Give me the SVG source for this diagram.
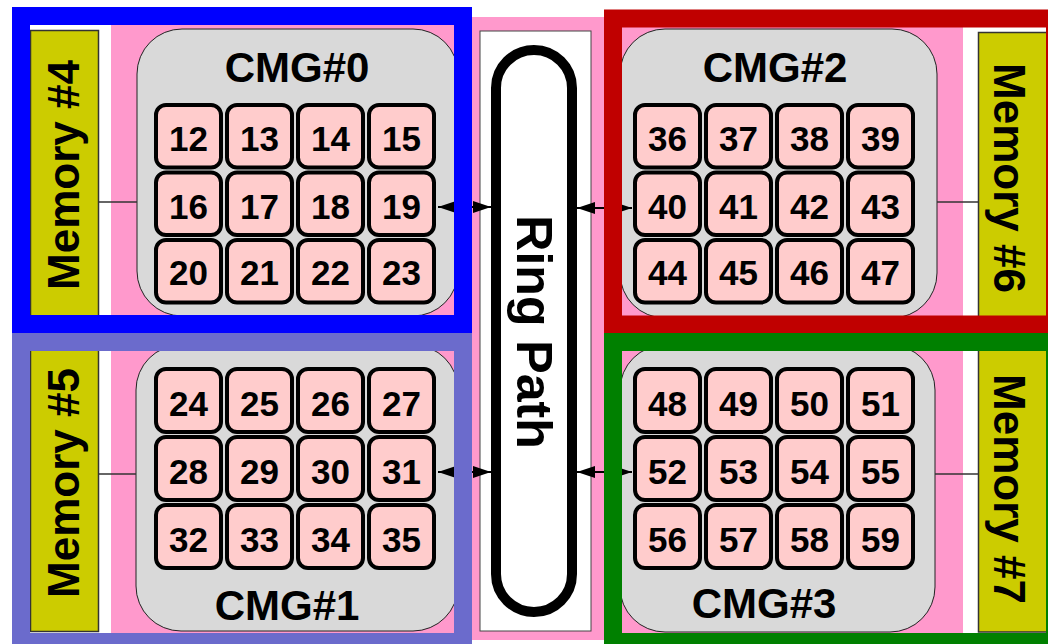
<svg xmlns="http://www.w3.org/2000/svg" width="1048" height="644" viewBox="0 0 1048 644">
<style>
text{font-family:"Liberation Sans",Arial,sans-serif;font-weight:bold;fill:#000}
.core rect{fill:#FFCCCC;stroke:#000;stroke-width:4}
.core text{font-size:35px;text-anchor:middle}
.cmg{fill:#D9D9D9;stroke:#222;stroke-width:1}
.cmgl{font-size:42px;text-anchor:middle}
.mem{fill:#CCCC00;stroke:#333;stroke-width:1.5}
.meml{font-size:44px;text-anchor:middle}
.frame{fill:none;stroke-width:18}
.conn{stroke:#000;stroke-width:2;fill:none}
.mline{stroke:#333;stroke-width:1.5;fill:none}
</style>
<defs>
<marker id="ah" markerWidth="18" markerHeight="12" refX="18" refY="6" orient="auto-start-reverse" markerUnits="userSpaceOnUse"><path d="M0,0 L18,6 L0,12 z" fill="#000"/></marker>
</defs>
<rect x="0" y="0" width="1048" height="644" fill="#fff"/>
<rect x="111" y="17" width="852" height="623" fill="#FF99CC"/>

<g id="ring">
<rect x="480" y="31" width="111" height="600" fill="#fff" stroke="#444" stroke-width="1"/>
<rect x="496" y="50" width="76" height="562" rx="38" fill="#fff" stroke="#000" stroke-width="10"/>
<text transform="translate(517,332) rotate(90)" font-size="50" text-anchor="middle">Ring Path</text>
</g>

<g id="memory4"><rect class="mem" x="30.5" y="30.5" width="68" height="300"/><text class="meml" transform="translate(79,175) rotate(-90)">Memory #4</text></g>
<g id="memory5"><rect class="mem" x="30.5" y="345" width="68" height="286.5"/><text class="meml" transform="translate(79,483) rotate(-90)">Memory #5</text></g>
<g id="memory6"><rect class="mem" x="978.5" y="32.5" width="80" height="300"/><text class="meml" transform="translate(994,178) rotate(90)">Memory #6</text></g>
<g id="memory7"><rect class="mem" x="978.5" y="345" width="80" height="287"/><text class="meml" transform="translate(994,489) rotate(90)">Memory #7</text></g>

<g id="cmg0">
<rect class="cmg" x="137" y="29" width="321" height="287" rx="45"/>
<text class="cmgl" x="297" y="82">CMG#0</text>
<g id="core12" class="core"><rect x="156" y="105" width="65" height="62.5" rx="10"/><text x="188.5" y="151">12</text></g>
<g id="core13" class="core"><rect x="227" y="105" width="65" height="62.5" rx="10"/><text x="259.5" y="151">13</text></g>
<g id="core14" class="core"><rect x="298" y="105" width="65" height="62.5" rx="10"/><text x="330.5" y="151">14</text></g>
<g id="core15" class="core"><rect x="369" y="105" width="65" height="62.5" rx="10"/><text x="401.5" y="151">15</text></g>
<g id="core16" class="core"><rect x="156" y="172.5" width="65" height="62.5" rx="10"/><text x="188.5" y="218.5">16</text></g>
<g id="core17" class="core"><rect x="227" y="172.5" width="65" height="62.5" rx="10"/><text x="259.5" y="218.5">17</text></g>
<g id="core18" class="core"><rect x="298" y="172.5" width="65" height="62.5" rx="10"/><text x="330.5" y="218.5">18</text></g>
<g id="core19" class="core"><rect x="369" y="172.5" width="65" height="62.5" rx="10"/><text x="401.5" y="218.5">19</text></g>
<g id="core20" class="core"><rect x="156" y="240" width="65" height="62.5" rx="10"/><text x="188.5" y="285">20</text></g>
<g id="core21" class="core"><rect x="227" y="240" width="65" height="62.5" rx="10"/><text x="259.5" y="285">21</text></g>
<g id="core22" class="core"><rect x="298" y="240" width="65" height="62.5" rx="10"/><text x="330.5" y="285">22</text></g>
<g id="core23" class="core"><rect x="369" y="240" width="65" height="62.5" rx="10"/><text x="401.5" y="285">23</text></g>
</g>

<g id="cmg1">
<rect class="cmg" x="136" y="345" width="322" height="286" rx="45"/>
<text class="cmgl" x="287" y="620">CMG#1</text>
<g id="core24" class="core"><rect x="156" y="369" width="65" height="63" rx="10"/><text x="188.5" y="416">24</text></g>
<g id="core25" class="core"><rect x="227" y="369" width="65" height="63" rx="10"/><text x="259.5" y="416">25</text></g>
<g id="core26" class="core"><rect x="298" y="369" width="65" height="63" rx="10"/><text x="330.5" y="416">26</text></g>
<g id="core27" class="core"><rect x="369" y="369" width="65" height="63" rx="10"/><text x="401.5" y="416">27</text></g>
<g id="core28" class="core"><rect x="156" y="437" width="65" height="63" rx="10"/><text x="188.5" y="484">28</text></g>
<g id="core29" class="core"><rect x="227" y="437" width="65" height="63" rx="10"/><text x="259.5" y="484">29</text></g>
<g id="core30" class="core"><rect x="298" y="437" width="65" height="63" rx="10"/><text x="330.5" y="484">30</text></g>
<g id="core31" class="core"><rect x="369" y="437" width="65" height="63" rx="10"/><text x="401.5" y="484">31</text></g>
<g id="core32" class="core"><rect x="156" y="505" width="65" height="63" rx="10"/><text x="188.5" y="552">32</text></g>
<g id="core33" class="core"><rect x="227" y="505" width="65" height="63" rx="10"/><text x="259.5" y="552">33</text></g>
<g id="core34" class="core"><rect x="298" y="505" width="65" height="63" rx="10"/><text x="330.5" y="552">34</text></g>
<g id="core35" class="core"><rect x="369" y="505" width="65" height="63" rx="10"/><text x="401.5" y="552">35</text></g>
</g>

<g id="cmg2">
<rect class="cmg" x="620" y="29" width="317" height="289" rx="45"/>
<text class="cmgl" x="775" y="82">CMG#2</text>
<g id="core36" class="core"><rect x="635" y="105" width="65" height="62.5" rx="10"/><text x="667.5" y="151">36</text></g>
<g id="core37" class="core"><rect x="706" y="105" width="65" height="62.5" rx="10"/><text x="738.5" y="151">37</text></g>
<g id="core38" class="core"><rect x="777" y="105" width="65" height="62.5" rx="10"/><text x="809.5" y="151">38</text></g>
<g id="core39" class="core"><rect x="848" y="105" width="65" height="62.5" rx="10"/><text x="880.5" y="151">39</text></g>
<g id="core40" class="core"><rect x="635" y="172.5" width="65" height="62.5" rx="10"/><text x="667.5" y="218.5">40</text></g>
<g id="core41" class="core"><rect x="706" y="172.5" width="65" height="62.5" rx="10"/><text x="738.5" y="218.5">41</text></g>
<g id="core42" class="core"><rect x="777" y="172.5" width="65" height="62.5" rx="10"/><text x="809.5" y="218.5">42</text></g>
<g id="core43" class="core"><rect x="848" y="172.5" width="65" height="62.5" rx="10"/><text x="880.5" y="218.5">43</text></g>
<g id="core44" class="core"><rect x="635" y="240" width="65" height="62.5" rx="10"/><text x="667.5" y="285">44</text></g>
<g id="core45" class="core"><rect x="706" y="240" width="65" height="62.5" rx="10"/><text x="738.5" y="285">45</text></g>
<g id="core46" class="core"><rect x="777" y="240" width="65" height="62.5" rx="10"/><text x="809.5" y="285">46</text></g>
<g id="core47" class="core"><rect x="848" y="240" width="65" height="62.5" rx="10"/><text x="880.5" y="285">47</text></g>
</g>

<g id="cmg3">
<rect class="cmg" x="620" y="345" width="315" height="287" rx="45"/>
<text class="cmgl" x="764" y="618">CMG#3</text>
<g id="core48" class="core"><rect x="635" y="369" width="65" height="63" rx="10"/><text x="667.5" y="416">48</text></g>
<g id="core49" class="core"><rect x="706" y="369" width="65" height="63" rx="10"/><text x="738.5" y="416">49</text></g>
<g id="core50" class="core"><rect x="777" y="369" width="65" height="63" rx="10"/><text x="809.5" y="416">50</text></g>
<g id="core51" class="core"><rect x="848" y="369" width="65" height="63" rx="10"/><text x="880.5" y="416">51</text></g>
<g id="core52" class="core"><rect x="635" y="437" width="65" height="63" rx="10"/><text x="667.5" y="484">52</text></g>
<g id="core53" class="core"><rect x="706" y="437" width="65" height="63" rx="10"/><text x="738.5" y="484">53</text></g>
<g id="core54" class="core"><rect x="777" y="437" width="65" height="63" rx="10"/><text x="809.5" y="484">54</text></g>
<g id="core55" class="core"><rect x="848" y="437" width="65" height="63" rx="10"/><text x="880.5" y="484">55</text></g>
<g id="core56" class="core"><rect x="635" y="505" width="65" height="63" rx="10"/><text x="667.5" y="552">56</text></g>
<g id="core57" class="core"><rect x="706" y="505" width="65" height="63" rx="10"/><text x="738.5" y="552">57</text></g>
<g id="core58" class="core"><rect x="777" y="505" width="65" height="63" rx="10"/><text x="809.5" y="552">58</text></g>
<g id="core59" class="core"><rect x="848" y="505" width="65" height="63" rx="10"/><text x="880.5" y="552">59</text></g>
</g>

<g id="connectors">
<line class="mline" x1="98" y1="202" x2="137" y2="202"/>
<line class="mline" x1="98" y1="474" x2="136" y2="474"/>
<line class="mline" x1="937" y1="202" x2="978" y2="202"/>
<line class="mline" x1="935" y1="474" x2="978" y2="474"/>
<line class="conn" x1="438" y1="207" x2="491" y2="207" marker-start="url(#ah)" marker-end="url(#ah)"/>
<line class="conn" x1="577" y1="208" x2="632" y2="208" marker-start="url(#ah)" marker-end="url(#ah)"/>
<line class="conn" x1="438" y1="472" x2="491" y2="472" marker-start="url(#ah)" marker-end="url(#ah)"/>
<line class="conn" x1="577" y1="472" x2="632" y2="472" marker-start="url(#ah)" marker-end="url(#ah)"/>
</g>

<g id="frames">
<rect class="frame" x="21" y="16" width="442" height="308" stroke="#0000FF"/>
<rect class="frame" x="21" y="342" width="442" height="300" stroke="#6B6BCC"/>
<rect class="frame" x="613" y="18.5" width="442" height="306" stroke="#C00000"/>
<rect class="frame" x="613" y="342" width="442" height="300" stroke="#008000"/>
</g>
</svg>
